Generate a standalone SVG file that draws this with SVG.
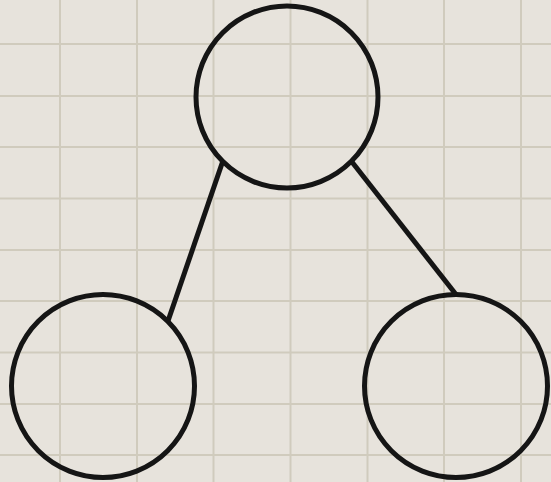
<svg xmlns="http://www.w3.org/2000/svg" width="551" height="482" viewBox="0 0 551 482">
<style>
.grid line{stroke:#d0cbbd;stroke-width:2}
.node{fill:none;stroke:#151515;stroke-width:5}
.edge{stroke:#151515;stroke-width:5;fill:none}
</style>
<rect x="0" y="0" width="551" height="482" fill="#e7e3dc"/>
<g class="grid">
<line x1="60" y1="0" x2="60" y2="482"/>
<line x1="137" y1="0" x2="137" y2="482"/>
<line x1="213.5" y1="0" x2="213.5" y2="482"/>
<line x1="290.5" y1="0" x2="290.5" y2="482"/>
<line x1="367.5" y1="0" x2="367.5" y2="482"/>
<line x1="444" y1="0" x2="444" y2="482"/>
<line x1="521" y1="0" x2="521" y2="482"/>
<line x1="0" y1="44" x2="551" y2="44"/>
<line x1="0" y1="96" x2="551" y2="96"/>
<line x1="0" y1="147" x2="551" y2="147"/>
<line x1="0" y1="198.5" x2="551" y2="198.5"/>
<line x1="0" y1="250" x2="551" y2="250"/>
<line x1="0" y1="301" x2="551" y2="301"/>
<line x1="0" y1="352.5" x2="551" y2="352.5"/>
<line x1="0" y1="404" x2="551" y2="404"/>
<line x1="0" y1="455" x2="551" y2="455"/>
</g>
<g id="connectors">
<line class="edge" x1="222.5" y1="162" x2="168" y2="321"/>
<line class="edge" x1="352" y1="162" x2="456" y2="294.5"/>
</g>
<g id="node-top"><circle class="node" cx="287" cy="97" r="91"/></g>
<g id="node-left"><circle class="node" cx="103" cy="386" r="91.5"/></g>
<g id="node-right"><circle class="node" cx="456" cy="386" r="91.5"/></g>
</svg>
